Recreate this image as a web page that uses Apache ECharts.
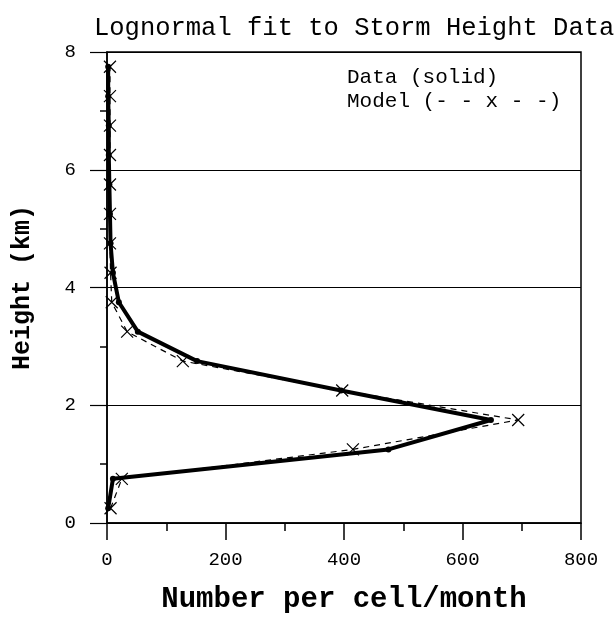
<!DOCTYPE html>
<html><head><meta charset="utf-8">
<script src="https://cdn.jsdelivr.net/npm/echarts@6/dist/echarts.min.js"></script>
<style>html,body{margin:0;padding:0;background:#fff}#c{width:615px;height:633px}</style>
</head><body><div id="c"></div>
<script>
const heights = [0.25,0.75,1.25,1.75,2.25,2.75,3.25,3.75,4.25,4.75,5.25,5.75,6.25,6.75,7.25,7.75];
const dataValues = [2,10,475,648,395,152,52,20,10,6,5,4,3,3,2,2];
const modelValues = [6,25,415,694,397,128,34,8,6,5,5,5,5,5,5,5];
const xTicks = {min:0,max:800,interval:200};
const yTicks = {min:0,max:8,interval:2};
const titleText = 'Lognormal fit to Storm Height Data';
const legendLines = ['Data (solid)','Model (- - x - -)'];
const mono = 'Liberation Mono';

const chart = echarts.init(document.getElementById('c'));
chart.setOption({
  animation:false,
  backgroundColor:'#fff',
  title:{text:titleText,left:89,top:10,textStyle:{fontFamily:mono,fontSize:25.5,fontWeight:'normal',color:'#000'}},
  grid:{left:107,right:34,top:52,bottom:110,show:true,borderColor:'#000',borderWidth:1.5,outerBoundsMode:'none',containLabel:false},
  graphic:[
    {type:'text',left:347,top:67,style:{text:legendLines[0],font:'21px "Liberation Mono"',fill:'#000'}},
    {type:'text',left:347,top:91,style:{text:legendLines[1],font:'21px "Liberation Mono"',fill:'#000'}}
  ],
  xAxis:{type:'value',min:xTicks.min,max:xTicks.max,interval:xTicks.interval,
    name:'Number per cell/month',nameLocation:'middle',nameGap:62,
    nameTextStyle:{fontFamily:mono,fontSize:29,fontWeight:'bold',color:'#000'},
    axisLine:{lineStyle:{color:'#000',width:1.5}},
    axisTick:{show:true,length:17,lineStyle:{color:'#000',width:1.5}},
    minorTick:{show:true,splitNumber:2,length:8,lineStyle:{color:'#000',width:1.5}},
    splitLine:{show:false},
    axisLabel:{margin:27,fontFamily:mono,fontSize:19,color:'#000'}},
  yAxis:{type:'value',min:yTicks.min,max:yTicks.max,interval:yTicks.interval,
    name:'Height (km)',nameLocation:'middle',nameGap:72,nameRotate:90,
    nameTextStyle:{fontFamily:mono,fontSize:25,fontWeight:'bold',color:'#000'},
    axisLine:{lineStyle:{color:'#000',width:1.5}},
    axisTick:{show:true,length:17,lineStyle:{color:'#000',width:1.2}},
    minorTick:{show:true,splitNumber:2,length:7,lineStyle:{color:'#000',width:1.5}},
    splitLine:{show:true,lineStyle:{color:'#000',width:1.2}},
    axisLabel:{margin:31,fontFamily:mono,fontSize:19,color:'#000'}},
  series:[
    {name:'Data',type:'line',data:heights.map((h,i)=>[dataValues[i],h]),
     lineStyle:{color:'#000',width:4},symbol:'circle',symbolSize:6,
     itemStyle:{color:'#000'},z:3},
    {name:'Model',type:'line',data:heights.map((h,i)=>[modelValues[i],h]),
     lineStyle:{color:'#000',width:1.2,type:[6,5]},
     symbol:'path://M0,0L10,10M10,0L0,10',symbolSize:12,
     itemStyle:{color:'none',borderColor:'#000',borderWidth:1.2},z:4}
  ]
});
</script></body></html>
